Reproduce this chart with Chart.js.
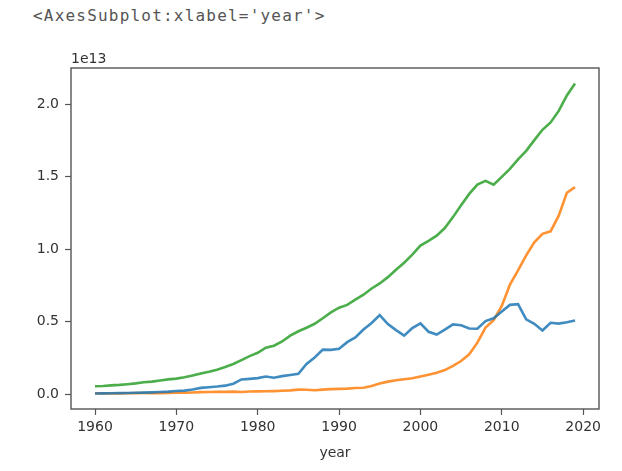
<!DOCTYPE html>
<html lang="en">
  <head>
    <meta charset="UTF-8" />
    <title>GDP</title>
    <style>
      body {
        margin: 0;
        background: #fff;
        width: 622px;
        height: 471px;
        position: relative;
        overflow: hidden;
      }
      #out_text {
        position: absolute;
        left: 33px;
        top: 6px;
        font-family: "DejaVu Sans Mono", monospace;
        font-size: 16px;
        letter-spacing: 1.2px;
        color: #555;
      }
      #offset_text {
        position: absolute;
        left: 71px;
        top: 50px;
        font-family: "DejaVu Sans", sans-serif;
        font-size: 14px;
        color: #333;
      }
      #gdp_chart {
        position: absolute;
        left: 0;
        top: 0;
      }
    </style>
  </head>
  <body>
    <div id="out_text">&lt;AxesSubplot:xlabel='year'&gt;</div>
    <canvas id="gdp_chart" width="622" height="471"></canvas>
    <div id="offset_text">1e13</div>
  </body>
  <script src="https://cdn.jsdelivr.net/npm/chart.js"></script>
  <script>
    // 年 (1960-2019)
    const years = Array.from({ length: 60 }, (_, i) => 1960 + i);

    // GDP（兆ドル）読み取り値
    const blueValues = [
      0.044, 0.054, 0.061, 0.07, 0.082, 0.091, 0.106, 0.124, 0.147, 0.173,
      0.213, 0.24, 0.318, 0.432, 0.48, 0.522, 0.586, 0.722, 1.014, 1.055,
      1.105, 1.218, 1.135, 1.244, 1.319, 1.399, 2.078, 2.533, 3.072, 3.055,
      3.133, 3.584, 3.909, 4.455, 4.907, 5.449, 4.833, 4.415, 4.033, 4.562,
      4.888, 4.304, 4.115, 4.446, 4.815, 4.755, 4.53, 4.515, 5.038, 5.231,
      5.7, 6.158, 6.203, 5.156, 4.85, 4.39, 4.922, 4.867, 4.955, 5.082,
    ];
    const orangeValues = [
      0.06, 0.05, 0.047, 0.051, 0.06, 0.07, 0.077, 0.073, 0.07, 0.079,
      0.093, 0.1, 0.114, 0.139, 0.144, 0.163, 0.154, 0.175, 0.15, 0.178,
      0.191, 0.196, 0.209, 0.23, 0.26, 0.309, 0.301, 0.273, 0.312, 0.348,
      0.361, 0.383, 0.427, 0.445, 0.564, 0.734, 0.864, 0.962, 1.029, 1.094,
      1.211, 1.339, 1.471, 1.66, 1.955, 2.286, 2.752, 3.55, 4.594, 5.102,
      6.087, 7.552, 8.532, 9.57, 10.476, 11.062, 11.233, 12.31, 13.895, 14.28,
    ];
    const greenValues = [
      0.543, 0.563, 0.605, 0.638, 0.686, 0.744, 0.815, 0.862, 0.943, 1.02,
      1.073, 1.165, 1.28, 1.425, 1.545, 1.684, 1.873, 2.082, 2.352, 2.627,
      2.857, 3.207, 3.343, 3.634, 4.037, 4.339, 4.58, 4.855, 5.236, 5.642,
      5.963, 6.158, 6.52, 6.859, 7.287, 7.64, 8.073, 8.578, 9.063, 9.631,
      10.252, 10.582, 10.936, 11.458, 12.214, 13.037, 13.815, 14.452, 14.713, 14.449,
      14.992, 15.543, 16.197, 16.785, 17.527, 18.238, 18.745, 19.543, 20.612, 21.433,
    ];

    // 目盛り
    const xTicks = [1960, 1970, 1980, 1990, 2000, 2010, 2020];
    const yTicks = [0, 0.5, 1.0, 1.5, 2.0];

    const toPoints = (vals) => vals.map((v, i) => ({ x: years[i], y: v * 1e12 }));

    // matplotlib 風の 5% マージン
    const allVals = blueValues.concat(orangeValues, greenValues).map((v) => v * 1e12);
    const yMin = Math.min(...allVals);
    const yMax = Math.max(...allVals);
    const yPad = (yMax - yMin) * 0.05;
    const xPad = (years[years.length - 1] - years[0]) * 0.05;

    const tickFont = { family: "'DejaVu Sans', sans-serif", size: 14 };

    // 枠線（四辺）
    const framePlugin = {
      id: "frame",
      afterDatasetsDraw(chart) {
        const { ctx, chartArea } = chart;
        ctx.save();
        ctx.strokeStyle = "#555";
        ctx.lineWidth = 1.4;
        ctx.strokeRect(chartArea.left, chartArea.top, chartArea.right - chartArea.left, chartArea.bottom - chartArea.top);
        ctx.restore();
      },
    };

    const ctx = document.getElementById("gdp_chart");
    window.chart = new Chart(ctx, {
      type: "line",
      data: {
        datasets: [
          { label: "blue", data: toPoints(blueValues), borderColor: "rgba(31, 119, 180, 0.85)" },
          { label: "orange", data: toPoints(orangeValues), borderColor: "rgba(255, 127, 14, 0.85)" },
          { label: "green", data: toPoints(greenValues), borderColor: "rgba(44, 160, 44, 0.85)" },
        ],
      },
      options: {
        responsive: false,
        animation: false,
        layout: { padding: { top: 68, right: 23, left: 0, bottom: 0 } },
        elements: {
          point: { radius: 0 },
          line: { borderWidth: 2.6, tension: 0 },
        },
        plugins: {
          legend: { display: false },
          tooltip: { enabled: false },
        },
        scales: {
          x: {
            type: "linear",
            min: years[0] - xPad,
            max: years[years.length - 1] + xPad,
            afterFit: (s) => {
              s.height = 62;
            },
            afterBuildTicks: (s) => {
              s.ticks = xTicks.map((v) => ({ value: v }));
            },
            grid: { drawOnChartArea: false, tickLength: 6, tickColor: "#555", tickWidth: 1.2 },
            border: { display: false },
            ticks: {
              color: "#333",
              font: tickFont,
              padding: 4,
              maxRotation: 0,
              callback: (v) => String(v),
            },
            title: {
              display: true,
              text: "year",
              color: "#333",
              font: tickFont,
              padding: { top: 0, bottom: 9 },
            },
          },
          y: {
            min: yMin - yPad,
            max: yMax + yPad,
            afterFit: (s) => {
              s.width = 71;
            },
            afterBuildTicks: (s) => {
              s.ticks = yTicks.map((v) => ({ value: v * 1e13 }));
            },
            grid: { drawOnChartArea: false, tickLength: 6, tickColor: "#555", tickWidth: 1.2 },
            border: { display: false },
            ticks: {
              color: "#333",
              font: tickFont,
              padding: 6,
              callback: (v) => (v / 1e13).toFixed(1),
            },
          },
        },
      },
      plugins: [framePlugin],
    });
  </script>
</html>
